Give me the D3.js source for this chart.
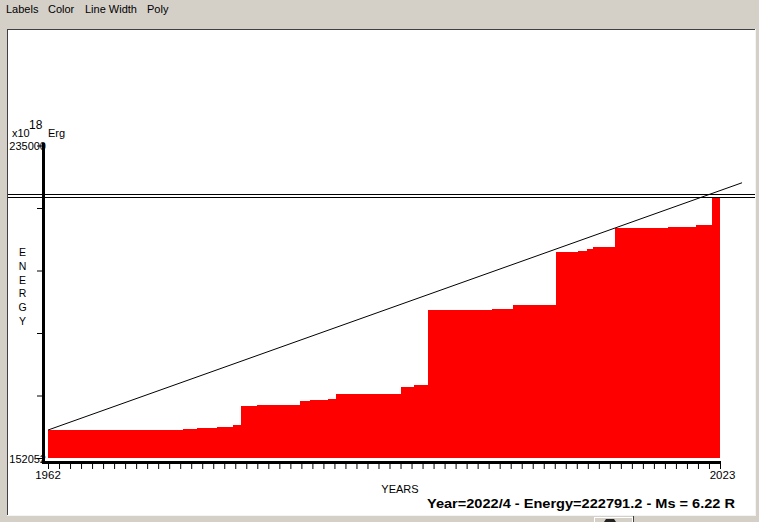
<!DOCTYPE html>
<html><head><meta charset="utf-8">
<script src="https://cdn.jsdelivr.net/npm/d3@7"></script>
<style>html,body{margin:0;padding:0;background:#d4d0c8;overflow:hidden}
text{font-family:"Liberation Sans",Arial,sans-serif;fill:#000}</style>
</head><body>
<svg id="c" width="759" height="522"></svg>
<script>
// ---- data ----
const stepYears  = [1962, 1974.27, 1975.55, 1977.36, 1978.8, 1979.5, 1981.0, 1984.9, 1985.8, 1987.4, 1988.1, 1994.0, 1995.2, 1996.45, 2002.3, 2004.2, 2008.1, 2010.1, 2010.9, 2011.5, 2013.45, 2018.3, 2020.8, 2022.3];
const stepEnergy = [159472, 159737, 160002, 160267, 160930, 165912, 166097, 167157, 167422, 167687, 169012, 170867, 171397, 191405, 191670, 192597, 206642, 206907, 207437, 207967, 213002, 213267, 213797, 221040];
const lastYear = 2023;
const yearTicks = d3.range(1962, 2024);
const xLabels = ["1962", "2023"];
const energyMin = 152052, energyMax = 235000;
const yLabels = ["152052", "235000"];
const trendYears  = [1962, 2025];
const trendEnergy = [159472, 225110];
const refLines = [222140, 221220];
const menuItems = ["Labels", "Color", "Line Width", "Poly"];
const menuX = [6, 48, 85, 147];
const energyLetters = ["E", "N", "E", "R", "G", "Y"];
const statusText = "Year=2022/4 - Energy=222791.2 - Ms = 6.22 R";

// ---- drawing ----
const svg = d3.select("#c");
const panel = {x0: 8, y0: 29, x1: 755, y1: 515};

// menu
svg.selectAll("text.menu").data(menuItems).join("text").attr("class", "menu")
  .attr("x", (d, i) => menuX[i]).attr("y", 13).style("font-size", "11px").text(d => d);

// panel
svg.append("rect").attr("x", panel.x0).attr("y", panel.y0)
  .attr("width", panel.x1 - panel.x0).attr("height", panel.y1 - panel.y0).attr("fill", "#fff");
svg.append("line").attr("x1", panel.x0 - 1).attr("x2", panel.x1).attr("y1", panel.y0 + 0.5).attr("y2", panel.y0 + 0.5).attr("stroke", "#404040");
svg.append("line").attr("x1", panel.x0 - 0.5).attr("x2", panel.x0 - 0.5).attr("y1", panel.y0).attr("y2", panel.y1).attr("stroke", "#404040");
svg.append("line").attr("x1", panel.x0 - 1).attr("x2", panel.x1 + 1).attr("y1", panel.y1 + 0.5).attr("y2", panel.y1 + 0.5).attr("stroke", "#f4f4f4");
svg.append("line").attr("x1", panel.x1 + 0.5).attr("x2", panel.x1 + 0.5).attr("y1", panel.y0).attr("y2", panel.y1 + 1).attr("stroke", "#f4f4f4");

// bottom button fragment
svg.append("rect").attr("x", 594.5).attr("y", 517.5).attr("width", 38).attr("height", 8).attr("fill", "#d4d0c8").attr("stroke", "#fff");
svg.append("line").attr("x1", 633.5).attr("x2", 633.5).attr("y1", 516).attr("y2", 522).attr("stroke", "#404040");
svg.append("path").attr("d", "M604,522 L606,519 L614,519 L616,522 Z").attr("fill", "#222");

const x = d3.scaleLinear([1962, lastYear], [48, 720]);
const y = d3.scaleLinear([energyMin, energyMax], [458, 145.5]);

// red steps
const steps = stepYears.map((yr, i) => ({x0: yr, x1: i < stepYears.length - 1 ? stepYears[i + 1] : lastYear, v: stepEnergy[i]}));
svg.append("g").selectAll("rect").data(steps).join("rect")
  .attr("x", d => x(d.x0)).attr("width", d => x(d.x1) - x(d.x0) + 0.3)
  .attr("y", d => y(d.v)).attr("height", d => y(energyMin) - y(d.v))
  .attr("fill", "#ff0000").attr("shape-rendering", "crispEdges");

// reference horizontal lines
svg.append("g").selectAll("line").data(refLines).join("line")
  .attr("x1", panel.x0).attr("x2", panel.x1)
  .attr("y1", d => Math.round(y(d)) + 0.5).attr("y2", d => Math.round(y(d)) + 0.5)
  .attr("stroke", "#000").attr("stroke-width", 1);

// trend line
svg.append("path").datum(trendYears.map((t, i) => [t, trendEnergy[i]]))
  .attr("d", d3.line().x(d => x(d[0])).y(d => y(d[1])))
  .attr("fill", "none").attr("stroke", "#000").attr("stroke-width", 1);

// axes ticks
const xAxis = svg.append("g").attr("transform", "translate(0,464)")
  .call(d3.axisBottom(x).tickValues(yearTicks).tickSize(5).tickFormat(""));
xAxis.select(".domain").remove();
const yTickVals = d3.range(6).map(i => energyMin + i * (energyMax - energyMin) / 5);
const yAxis = svg.append("g").attr("transform", "translate(42,0)")
  .call(d3.axisLeft(y).tickValues(yTickVals).tickSize(5).tickFormat(""));
yAxis.select(".domain").remove();

// thick axis lines
svg.append("line").attr("x1", 43.5).attr("x2", 43.5).attr("y1", 143).attr("y2", 464).attr("stroke", "#000").attr("stroke-width", 3);
svg.append("line").attr("x1", 42).attr("x2", 721).attr("y1", 462.5).attr("y2", 462.5).attr("stroke", "#000").attr("stroke-width", 3);

// x labels
svg.selectAll("text.xl").data(xLabels).join("text").attr("class", "xl")
  .attr("x", d => x(+d) + (d === "2023" ? 2.5 : 0)).attr("y", 479).attr("text-anchor", "middle")
  .style("font-size", "11.5px").text(d => d);
svg.append("text").attr("x", 400).attr("y", 493).attr("text-anchor", "middle").style("font-size", "11px").text("YEARS");

// y labels
svg.append("text").attr("x", 46).attr("y", 463).attr("text-anchor", "end").style("font-size", "11px").text(yLabels[0]);
svg.append("text").attr("x", 46).attr("y", 150).attr("text-anchor", "end").style("font-size", "11px").text(yLabels[1]);
svg.append("text").attr("x", 12).attr("y", 137).style("font-size", "11px").text("x10");
svg.append("text").attr("x", 29).attr("y", 129).style("font-size", "12px").text("18");
svg.append("text").attr("x", 48).attr("y", 137).style("font-size", "11px").text("Erg");

// ENERGY vertical
svg.selectAll("text.en").data(energyLetters).join("text").attr("class", "en")
  .attr("x", 22.5).attr("y", (d, i) => 256 + i * 13.8).attr("text-anchor", "middle")
  .style("font-size", "10.5px").text(d => d);

// status text
svg.append("text").attr("x", 427).attr("y", 508).style("font-size", "13.5px").style("font-weight", "bold")
  .attr("textLength", 308).attr("lengthAdjust", "spacingAndGlyphs").text(statusText);
</script>
</body></html>
